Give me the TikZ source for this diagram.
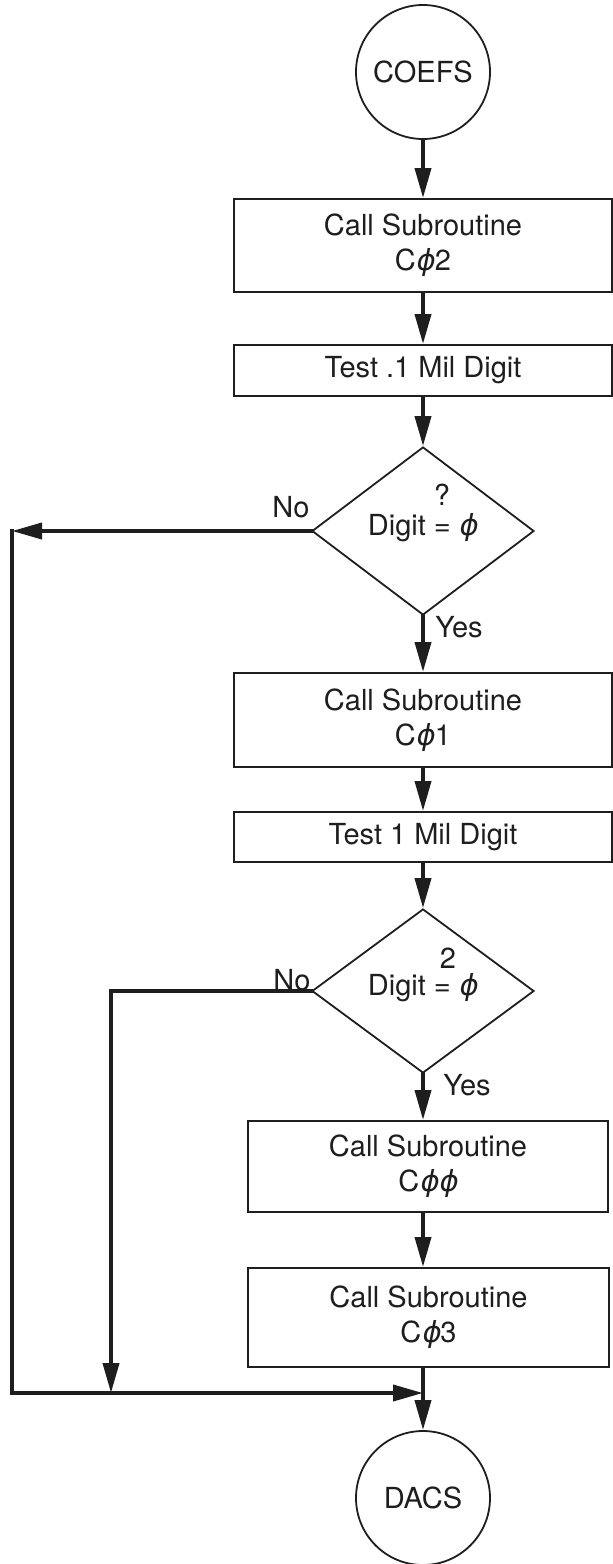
\documentclass[tikz,border=0pt]{standalone}
\usepackage{fontspec}
\setmainfont{TeX Gyre Heros}
\newfontfamily\phifont{DejaVu Sans}[FakeSlant=0.2]
\usetikzlibrary{arrows.meta,shapes.geometric}
\definecolor{ink}{HTML}{1E1E1E}
\newcommand{\zphi}{{\phifont ϕ}}
\begin{document}
\begin{tikzpicture}[x=1pt,y=-1pt,
  every node/.style={font=\fontsize{29}{35}\selectfont, text=ink},
  term/.style={circle, draw=ink, line width=1.8pt, minimum size=134pt, inner sep=0pt},
  proc/.style={rectangle, draw=ink, line width=2pt, inner sep=0pt, align=center},
  decide/.style={diamond, draw=ink, line width=1.8pt, inner sep=0pt},
  flow/.style={draw=ink, line width=3.8pt, line cap=rect, -{Triangle[length=30pt,width=16pt]}},
  lbl/.style={inner sep=0pt}
]
\useasboundingbox (0,0) rectangle (613,1564);

% terminals, process boxes and decisions down the main axis
\node[term] (coefs) at (423,72) {COEFS};
\node[proc, minimum width=378pt, minimum height=93pt] (b1) at (423,245.5) {Call Subroutine\\C\zphi2};
\node[proc, minimum width=378pt, minimum height=51pt] (b2) at (423,370.5) {Test .1 Mil Digit};
\node[decide, minimum width=222pt, minimum height=168pt] (d1) at (423,531) {};
\node[proc, minimum width=378pt, minimum height=94pt] (b3) at (423,720) {Call Subroutine\\C\zphi1};
\node[proc, minimum width=378pt, minimum height=50pt] (b4) at (423,837) {Test 1 Mil Digit};
\node[decide, minimum width=222pt, minimum height=164pt] (d2) at (423,991) {};
\node[proc, minimum width=360pt, minimum height=91pt] (b5) at (428,1166.5) {Call Subroutine\\C\zphi\zphi};
\node[proc, minimum width=361pt, minimum height=99pt] (b6) at (428.5,1317.5) {Call Subroutine\\C\zphi3};
\node[term] (dacs) at (423,1498) {DACS};

% texts inside the decisions and on their exits
\node[lbl] (q1) at (442,495) {?};
\node[lbl] (t1) at (423,528) {Digit = \zphi};
\node[lbl] (no1) at (291,507) {No};
\node[lbl] (yes1) at (459,627) {Yes};
\node[lbl] (q2) at (448,958) {2};
\node[lbl] (t2) at (423,988) {Digit = \zphi};
\node[lbl] (no2) at (292,980) {No};
\node[lbl] (yes2) at (467,1085) {Yes};

% bends of the two return paths
\coordinate (m) at (423,1393);
\coordinate (c1) at (12,531);
\coordinate (c2) at (12,1393);
\coordinate (c3) at (111,991);
\coordinate (c4) at (111,1393);

% main flow
\draw[flow] (coefs.south) -- (b1.north);
\draw[flow] (b1.south) -- (b2.north);
\draw[flow] (b2.south) -- (d1.north);
\draw[flow] (d1.south) -- (b3.north);
\draw[flow] (b3.south) -- (b4.north);
\draw[flow] (b4.south) -- (d2.north);
\draw[flow] (d2.south) -- (d2.south |- b5.north);
\draw[flow] (b5.south -| m) -- (b6.north -| m);
\draw[flow] (b6.south -| m) -- (dacs.north);

% "No" exits back to the exit point
\draw[flow] (d1.west) -- (c1);
\draw[flow] (c1) -- (c2) -- (m);
\draw[flow] (d2.west) -- (c3) -- (c4);
\end{tikzpicture}
\end{document}
